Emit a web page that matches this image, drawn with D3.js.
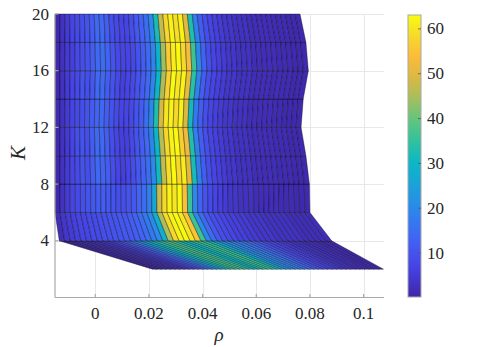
<!DOCTYPE html>
<html>
<head>
<meta charset="utf-8">
<script src="https://cdn.jsdelivr.net/npm/d3@7/dist/d3.min.js"></script>
<style>
  body { margin: 0; background: #fff; }
  svg { display: block; }
</style>
</head>
<body>
<div id="chart"></div>
<script>
// rows of the surface (K) and the rho span of each row
const K_LEVELS = [2, 4, 6, 8, 10, 12, 14, 16, 18, 20];
const RHO_START = [0.0213, -0.0134, -0.015, -0.015, -0.015, -0.015, -0.015, -0.015, -0.015, -0.015];
const RHO_END = [0.1074, 0.0881, 0.0800, 0.0798, 0.0785, 0.0767, 0.0775, 0.0794, 0.0785, 0.0763];

// face values between consecutive K rows (50 faces each)
const bandK2 = [0.2,0.5,1,1.5,2,2.5,3,4,5,7, 9,12,15,19,23,27,31,34,36,37, 36,33,30,31,34,36,35,31,26,22, 20,19,18,16,14,12,10,8,7,6, 5,4,3,3,2,2,1.5,1,1,0.5];
const bandK4 = [2,4,5,6,7,7,8,8,9,9, 10,10,11,11,12,13,15,17,20,28, 45,58,62,63.1,60,55,36,20,14,11, 9,8,7,6,6,5,5,4,4,4, 3,3,3,3,3,2,2,2,2,2];
const bandK6 = [1,3,5,7,8,9,10,11,12,12, 11,10,9,9,10,11,13,15,18,26, 48,58,62,60,63,54,36,20,13,10, 8,7,6,5,4,4,3,3,3,2, 2,2,2,2,1.5,1.5,1.5,1,1,1];
const bandK8 = [1,3,5,7,8,10,9,12,14,13, 12,9,7,6,7,9,11,13,15,20, 31,47,59,63,58,61,50,32,18,12, 9,7,6,5,4,4,3,3,3,2, 2,2,2,2,1.5,1.5,1.5,1,1,1];
const bandK10 = [1,3,5,7,9,10,9,12,14,14, 12,9,7,6,6,8,10,12,14,19, 30,46,58,62,63,57,52,33,18,12, 9,7,6,5,4,4,3,3,3,2, 2,2,2,2,1.5,1.5,1.5,1,1,1];
const bandK12 = [1.5,3,5,7,8,9,10,12,13,14, 12,10,8,7,7,8,10,12,15,20, 33,49,60,62,58,62,49,31,17,12, 9,7,6,5,4,4,3,3,3,2, 2,2,2,2,1.5,1.5,1,1,1,1];
const bandK14 = [1,3,5,7,8,10,9,11,14,14, 12,10,8,6,7,8,10,12,14,19, 30,45,57,63,60,62,51,34,19,12, 9,7,6,5,4,4,3,3,3,2, 2,2,2,1.5,2,1.5,1.5,1,1,1];
const bandK16 = [1,3,5,6,8,9,10,12,14,15, 13,10,8,7,7,8,10,12,14,19, 29,44,56,61,63,58,53,36,20,13, 9,7,6,5,4,4,3,3,3,2, 2,2,2,2,1.5,1.5,1.5,1,1,1];
const bandK18 = [1,3,5,7,8,9,10,12,14,14, 12,9,8,7,7,9,11,13,15,20, 32,47,58,62,59,62,50,33,18,12, 9,7,6,5,4,4,3,3,3,2, 2,2,2,2,1.5,1.5,1.5,1,1,1];
const BANDS = [bandK2, bandK4, bandK6, bandK8, bandK10, bandK12, bandK14, bandK16, bandK18];

const X_TICKS = [0, 0.02, 0.04, 0.06, 0.08, 0.1];
const Y_TICKS = [4, 8, 12, 16, 20];
const C_TICKS = [10, 20, 30, 40, 50, 60];

// parula-like colour stops
const PARULA_T = [0, 0.1, 0.2, 0.3, 0.4, 0.475, 0.55, 0.625, 0.7, 0.775, 0.85, 0.925, 1];
const PARULA = ["#3e26a8", "#4641e2", "#4361f5", "#2d84ed", "#1aa3d8", "#0bb7c6", "#2ec29f",
                "#5fc57f", "#a2bf5e", "#d8b943", "#fbbb3b", "#f6d92b", "#f9fb0e"];

const W = 479, H = 347;
const svg = d3.select("#chart").append("svg")
    .attr("width", W).attr("height", H)
    .attr("font-family", "'Liberation Serif', 'DejaVu Serif', serif");

const x = d3.scaleLinear().domain([-0.015, 0.1076]).range([55, 384]);
const y = d3.scaleLinear().domain([0, 20]).range([297.5, 14]);

const cExt = d3.extent(BANDS.flat());
const color = d3.scaleLinear()
    .domain(PARULA_T.map(t => cExt[0] + t * (cExt[1] - cExt[0])))
    .range(PARULA)
    .interpolate(d3.interpolateRgb)
    .clamp(true);

// grid
const grid = svg.append("g").attr("stroke", "#e8e8e8").attr("stroke-width", 1);
X_TICKS.forEach(t => grid.append("line")
    .attr("x1", Math.round(x(t)) + 0.5).attr("x2", Math.round(x(t)) + 0.5)
    .attr("y1", y(20)).attr("y2", y(0)));
Y_TICKS.forEach(t => grid.append("line")
    .attr("x1", x.range()[0]).attr("x2", x.range()[1])
    .attr("y1", Math.round(y(t)) + 0.5).attr("y2", Math.round(y(t)) + 0.5));

// surface faces
const faces = [];
BANDS.forEach((vals, b) => {
    const n = vals.length;
    const r0 = [RHO_START[b], RHO_END[b]], r1 = [RHO_START[b + 1], RHO_END[b + 1]];
    const at = (r, j) => r[0] + (r[1] - r[0]) * j / n;
    vals.forEach((v, j) => {
        faces.push({
            v,
            pts: [
                [x(at(r0, j)), y(K_LEVELS[b])],
                [x(at(r0, j + 1)), y(K_LEVELS[b])],
                [x(at(r1, j + 1)), y(K_LEVELS[b + 1])],
                [x(at(r1, j)), y(K_LEVELS[b + 1])]
            ]
        });
    });
});

svg.append("g")
    .selectAll("polygon")
    .data(faces)
    .join("polygon")
    .attr("points", d => d.pts.map(p => p.join(",")).join(" "))
    .attr("fill", d => color(d.v))
    .attr("stroke", "#000")
    .attr("stroke-opacity", 0.6)
    .attr("stroke-width", 0.6)
    .attr("stroke-linejoin", "round");

// axes lines
const ax = svg.append("g").attr("stroke", "#a8a8a8").attr("stroke-width", 1.2);
ax.append("line").attr("x1", 55).attr("x2", 55).attr("y1", y(20)).attr("y2", y(0));
ax.append("line").attr("x1", 55).attr("x2", 384).attr("y1", y(0)).attr("y2", y(0));
X_TICKS.forEach(t => ax.append("line").attr("x1", x(t)).attr("x2", x(t)).attr("y1", y(0)).attr("y2", y(0) - 3.5));
Y_TICKS.forEach(t => ax.append("line").attr("x1", 55).attr("x2", 58.5).attr("y1", y(t)).attr("y2", y(t)));

// tick labels
svg.append("g").attr("fill", "#262626").selectAll("text").data(X_TICKS).join("text")
    .attr("x", d => x(d)).attr("y", 313)
    .attr("text-anchor", "middle").attr("dominant-baseline", "central")
    .attr("font-size", 17)
    .text(d => d3.format("~g")(d));
svg.append("g").attr("fill", "#262626").selectAll("text").data(Y_TICKS).join("text")
    .attr("x", 49).attr("y", d => y(d))
    .attr("text-anchor", "end").attr("dominant-baseline", "central")
    .attr("font-size", 17)
    .text(d => d);

// axis titles
svg.append("text").attr("x", 219).attr("y", 341).attr("fill", "#262626")
    .attr("text-anchor", "middle").attr("font-size", 19).attr("font-style", "italic")
    .text("ρ");
svg.append("text").attr("transform", "translate(25,153) rotate(-90)").attr("fill", "#262626")
    .attr("text-anchor", "middle").attr("font-size", 21).attr("font-style", "italic")
    .text("K");

// colorbar
const cb = { x: 408, w: 13, top: 15, bottom: 297 };
const cy = d3.scaleLinear().domain(cExt).range([cb.bottom, cb.top]);
const grad = svg.append("defs").append("linearGradient")
    .attr("id", "cbar").attr("x1", 0).attr("y1", 1).attr("x2", 0).attr("y2", 0);
d3.range(0, 1.0001, 0.025).forEach(t => grad.append("stop")
    .attr("offset", t)
    .attr("stop-color", color(cExt[0] + t * (cExt[1] - cExt[0]))));
svg.append("rect").attr("x", cb.x).attr("y", cb.top).attr("width", cb.w).attr("height", cb.bottom - cb.top)
    .attr("fill", "url(#cbar)").attr("stroke", "#a8a8a8").attr("stroke-width", 1);
svg.append("g").selectAll("line").data(C_TICKS).join("line")
    .attr("x1", cb.x + cb.w - 3).attr("x2", cb.x + cb.w)
    .attr("y1", d => cy(d)).attr("y2", d => cy(d))
    .attr("stroke", "#555").attr("stroke-width", 0.8);
svg.append("g").attr("fill", "#262626").selectAll("text").data(C_TICKS).join("text")
    .attr("x", 427).attr("y", d => cy(d))
    .attr("dominant-baseline", "central").attr("font-size", 17)
    .text(d => d);
</script>
</body>
</html>
